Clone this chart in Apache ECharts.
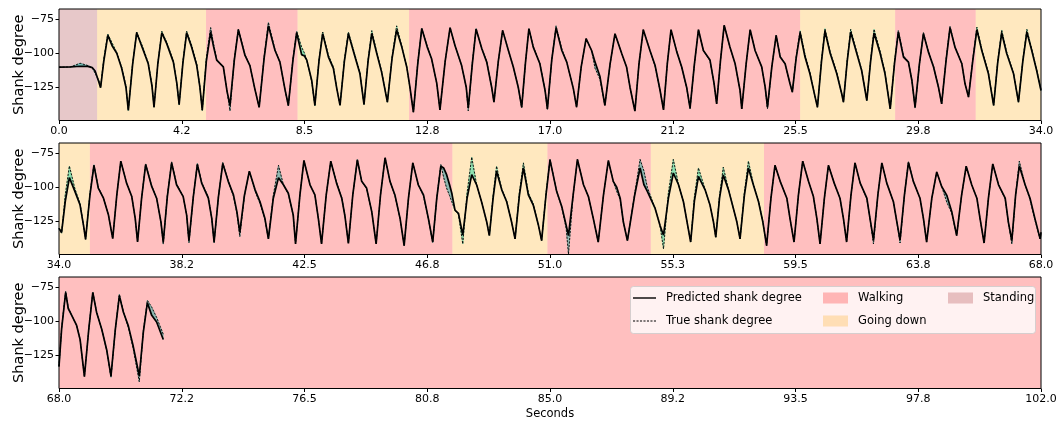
<!DOCTYPE html>
<html>
<head>
<meta charset="utf-8">
<script src="https://cdn.jsdelivr.net/npm/echarts@6/dist/echarts.min.js"></script>
<style>
  html, body { margin: 0; background: #fff; }
  #chart { width: 1062px; height: 425px; }
</style>
</head>
<body>
<div id="chart"></div>
<script>
// seconds / predicted / true shank degree, one set per row of the figure
const seconds1 = [
  0.00, 0.40, 0.73, 1.00, 1.15, 1.25, 1.38, 1.44, 1.55, 1.69, 1.85, 2.00, 2.17, 2.32, 2.40,
  2.55, 2.69, 2.92, 3.09, 3.22, 3.29,
  3.42, 3.56, 3.73, 3.96, 4.08, 4.16,
  4.29, 4.42, 4.59, 4.77, 4.88, 4.96,
  5.10, 5.25, 5.35, 5.46, 5.69, 5.82, 5.92,
  6.07, 6.21, 6.44, 6.61, 6.78, 6.93,
  7.10, 7.25, 7.48, 7.65, 7.82, 7.94,
  8.10, 8.23, 8.40, 8.50, 8.58, 8.75, 8.86,
  9.00, 9.13, 9.33, 9.50, 9.62, 9.73,
  9.88, 10.02, 10.25, 10.42, 10.56,
  10.70, 10.83, 11.00, 11.17, 11.37,
  11.53, 11.69, 11.87, 12.04, 12.15, 12.27,
  12.42, 12.56, 12.75, 12.90, 13.08, 13.19,
  13.37, 13.54, 13.71, 13.94, 14.10, 14.17,
  14.31, 14.44, 14.64, 14.81, 14.98, 15.06,
  15.21, 15.36, 15.56, 15.73, 15.90, 16.02,
  16.15, 16.27, 16.42, 16.65, 16.83, 16.91,
  17.06, 17.21, 17.41, 17.58, 17.81, 17.92,
  18.08, 18.25, 18.44, 18.56, 18.73, 18.90,
  19.08, 19.25, 19.48, 19.65, 19.77, 19.94,
  20.08, 20.23, 20.46, 20.64, 20.81, 20.93,
  21.06, 21.19, 21.39, 21.56, 21.73, 21.85,
  22.00, 22.14, 22.31, 22.54, 22.68, 22.77,
  22.90, 23.03, 23.23, 23.41, 23.58, 23.64,
  23.79, 23.93, 24.10, 24.33, 24.45, 24.53,
  24.68, 24.83, 24.97, 25.14, 25.31, 25.39,
  25.52, 25.66, 25.83, 26.00, 26.18, 26.26,
  26.40, 26.52, 26.70, 26.93, 27.10, 27.16,
  27.29, 27.41, 27.62, 27.79, 27.97,
  28.10, 28.22, 28.43, 28.60, 28.78,
  28.93, 29.06, 29.24, 29.41, 29.53, 29.64,
  29.79, 29.93, 30.10, 30.28, 30.45, 30.56,
  30.71, 30.85, 31.02, 31.26, 31.37, 31.49,
  31.64, 31.78, 31.95, 32.18, 32.36,
  32.50, 32.64, 32.81, 33.05, 33.22,
  33.37, 33.51, 33.68, 33.85, 34.00
]
const predicted1 = [
  -110.2, -110.0, -109.5, -109.6, -110.5, -113, -121, -125.2, -106, -87, -95, -100, -111, -125, -141.8,
  -108, -85, -98, -107.7, -124, -139.4,
  -108, -85.2, -93, -106.5, -122, -137.4,
  -107, -85, -95.5, -109, -125, -141.3,
  -106, -84.5, -95, -105, -110, -128, -138,
  -105, -82.8, -101.6, -109, -126, -139.4,
  -104, -80, -98, -106.5, -126, -138,
  -105, -85, -101, -102, -105, -119.9, -138,
  -106, -85.7, -102.8, -111, -126, -138,
  -106, -85.7, -102.8, -115, -137.4,
  -106, -85.7, -100, -113.8, -135.7,
  -104, -83, -95.5, -110, -124.8, -143,
  -108, -82, -95.5, -104, -122, -141.3,
  -106, -81.3, -94.3, -109, -124.8, -140,
  -108, -82.3, -96.7, -106.5, -124.8, -135.7,
  -106, -83.3, -98, -110, -124.8, -139.4,
  -107, -82, -95.5, -107.7, -127.2, -140.6,
  -105, -81.5, -98, -106.5, -126, -139.4,
  -110, -89.4, -98, -106.5, -117, -138,
  -108, -85.7, -100, -110, -124.8, -142.3,
  -108, -82.8, -98, -109, -127, -141.3,
  -108, -82.8, -99, -110, -124.8, -140,
  -108, -82.8, -98, -105, -122, -137,
  -106, -79.6, -95.5, -107.7, -127.2, -140.6,
  -108, -82.8, -98, -110, -124.8, -139.4,
  -110, -87, -102.8, -107.7, -122.3, -128.4,
  -104, -85.2, -102.8, -115, -132, -139.4,
  -106, -83.8, -100, -115, -129.6, -135.7,
  -106, -84.5, -100, -112.6, -134.5,
  -106, -85.2, -100, -115, -140.6,
  -107, -84.5, -102.8, -106.5, -119.9, -139.4,
  -108, -85.7, -99, -110, -124.8, -137,
  -106, -81.3, -95.5, -107.7, -122.3, -132,
  -105, -82.8, -98, -115, -138,
  -107, -85.2, -100, -115, -135.7,
  -106, -84.5, -98, -112.6, -127.2
]
const actual1 = [
  -110.2, -110.0, -107.3, -109.0, -110.5, -114.5, -120, -124.5, -104, -86, -93, -99.5, -110, -124, -141.5,
  -107, -84.5, -96.5, -107, -123, -139.4,
  -108, -84, -92, -105.5, -122, -137.8,
  -106, -84, -94, -108, -125, -141.8,
  -104, -81.3, -93, -104.5, -110, -128, -142,
  -104, -82.5, -101, -109, -126, -139.4,
  -103, -77.5, -97.5, -106.5, -126, -138.5,
  -104, -84, -95.5, -100, -105.5, -120.5, -138.5,
  -105, -84.5, -101.5, -110, -126, -138,
  -105, -84.5, -101.5, -114, -137.4,
  -105, -83.5, -99, -113, -135.7,
  -103, -80, -95, -110, -124.8, -143,
  -107, -82, -95, -104, -122, -141.3,
  -106, -81.3, -94, -109, -124.8, -142,
  -107, -82, -96.5, -106, -124.8, -135.7,
  -106, -83.3, -98, -110, -124.8, -139.8,
  -107, -82, -95, -107.5, -127.2, -141,
  -105, -80, -97, -106.5, -126, -139.4,
  -110, -89.4, -98, -111, -119, -138,
  -108, -85.7, -100, -110, -124.8, -142.3,
  -108, -82.8, -98, -109.5, -127, -141.3,
  -108, -82.8, -99, -110.5, -124.8, -140.6,
  -108, -82.8, -98, -105.5, -122, -137,
  -106, -79.6, -95.5, -107.7, -127.2, -140.6,
  -108, -82.8, -98, -110, -124.8, -140.5,
  -110, -87, -102, -107.7, -122.3, -128.4,
  -103, -83.5, -101, -114, -132, -139.4,
  -105, -82, -99, -114, -129.6, -135.7,
  -105, -82.5, -99, -112, -134.5,
  -105, -82.5, -98.5, -114, -140.6,
  -106, -83.5, -102, -106, -119.9, -140,
  -108, -85, -98.5, -109.5, -124.8, -137,
  -105, -80.5, -95, -107.7, -122.3, -132,
  -104, -81, -97, -114, -138,
  -106, -83, -99, -114.5, -135.7,
  -105, -82.5, -97, -112, -127
]

const seconds2 = [
  34.00, 34.09, 34.22, 34.36, 34.55, 34.73, 34.85, 34.92,
  35.07, 35.21, 35.36, 35.54, 35.71, 35.86,
  36.00, 36.14, 36.34, 36.52, 36.64, 36.72,
  36.86, 37.00, 37.21, 37.38, 37.53, 37.61,
  37.75, 37.90, 38.07, 38.30, 38.42, 38.50,
  38.65, 38.79, 38.94, 39.17, 39.29, 39.37,
  39.52, 39.67, 39.86, 40.04, 40.16, 40.26,
  40.42, 40.59, 40.79, 40.96, 41.13, 41.25,
  41.42, 41.60, 41.77, 41.94, 42.11, 42.19,
  42.34, 42.48, 42.69, 42.86, 42.98, 43.09,
  43.25, 43.41, 43.61, 43.79, 43.90, 44.02,
  44.17, 44.33, 44.48, 44.65, 44.83, 44.98,
  45.13, 45.29, 45.46, 45.63, 45.81, 45.95,
  46.10, 46.25, 46.44, 46.62, 46.79, 46.94,
  47.08, 47.22, 47.32, 47.42, 47.52, 47.60, 47.71, 47.83, 47.98,
  48.13, 48.29, 48.46, 48.63, 48.81, 48.90,
  49.03, 49.15, 49.33, 49.50, 49.67, 49.79,
  49.94, 50.08, 50.25, 50.42, 50.60, 50.71,
  50.86, 51.00, 51.23, 51.41, 51.56, 51.64,
  51.80, 51.95, 52.16, 52.33, 52.50, 52.67,
  52.85, 53.02, 53.19, 53.31, 53.43, 53.54, 53.68,
  53.93, 54.12, 54.25, 54.37, 54.64, 54.81, 54.93,
  55.10, 55.27, 55.45, 55.62, 55.87,
  56.00, 56.14, 56.37, 56.54, 56.66, 56.74,
  56.87, 57.00, 57.18, 57.35, 57.47, 57.58,
  57.73, 57.87, 58.04, 58.22, 58.37, 58.50,
  58.65, 58.79, 58.97, 59.20, 59.31, 59.45,
  59.60, 59.75, 59.95, 60.12, 60.24, 60.35,
  60.50, 60.64, 60.84, 61.04, 61.16, 61.27,
  61.42, 61.56, 61.74, 61.97, 62.08, 62.20,
  62.35, 62.49, 62.66, 62.89, 63.01, 63.12,
  63.27, 63.41, 63.58, 63.81, 63.93, 64.04,
  64.22, 64.39, 64.56, 64.74, 64.91, 65.08,
  65.25, 65.41, 65.60, 65.78, 65.89, 66.03,
  66.18, 66.33, 66.53, 66.76, 66.87, 66.99,
  67.12, 67.25, 67.45, 67.62, 67.79, 67.97, 68.00
]
const predicted2 = [
  -130, -133, -110, -93, -103, -113, -128, -138,
  -106, -84, -100.6, -108, -120, -137.5,
  -106, -81, -97, -106.8, -122.9, -140,
  -108, -83.4, -99.4, -108, -125.4, -140,
  -107, -82.2, -98.2, -106.8, -120.4, -139,
  -107, -83.4, -97, -108, -122.9, -140,
  -107, -82.7, -95.7, -105.6, -118, -133,
  -106, -88.3, -101.9, -110.6, -122.9, -137.7,
  -108, -93, -98.2, -104.4, -120.4, -141.4,
  -106, -80.5, -98.2, -105.6, -122.9, -141.4,
  -106, -81, -97, -108, -121, -141,
  -106, -80, -95.7, -100.6, -118, -141.4,
  -106, -78.5, -95.7, -105.6, -122.9, -142.6,
  -108, -82.2, -98.2, -105.6, -122.9, -140,
  -108, -84.6, -86, -90.8, -98, -104.4, -116.7, -119, -135,
  -108, -90.8, -98.2, -110.6, -125.4, -135.3,
  -108, -88.3, -101.9, -110.6, -125.4, -137.7,
  -106, -85.9, -105.6, -113, -127.8, -139,
  -106, -80, -103, -114.3, -127.8, -135.3,
  -106, -79.7, -98.2, -106.8, -122.9, -140,
  -106, -80.5, -95.7, -100, -108, -125.4, -139,
  -106, -85.9, -98, -103, -115.5, -128, -135,
  -108, -89.6, -98.2, -110.6, -140,
  -110, -92, -101.9, -113, -125.4, -136.5,
  -108, -91, -101.9, -115.5, -125.4, -137.7,
  -106, -85.9, -98.2, -110.6, -125.4, -142.6,
  -108, -84, -95.7, -108, -122.9, -140,
  -106, -81, -95.7, -106.8, -122.9, -141.4,
  -108, -84, -97, -108, -122.9, -140,
  -106, -82.2, -97, -108, -122.9, -138.5,
  -106, -82.2, -97, -110.6, -125.4, -138.5,
  -106, -82, -95.7, -108, -122.9, -140,
  -108, -88.8, -99.4, -106, -117.8, -135.3,
  -106, -84.6, -98.2, -108, -122.9, -140.7,
  -108, -83, -98.2, -108, -125.4, -139,
  -106, -84.5, -98.2, -108, -122.9, -137.7, -133
]
const actual2 = [
  -130, -133.5, -105, -84.5, -101, -112, -128, -138,
  -105, -83.5, -100, -108, -120, -137.5,
  -106, -81, -97, -106.8, -122.9, -140,
  -108, -83, -99, -108, -125.4, -141.5,
  -106, -81.5, -97.5, -106.8, -120.4, -140.5,
  -107, -82.5, -96.5, -107, -122.9, -140.5,
  -107, -82, -95.5, -106.5, -119, -136,
  -106, -88.3, -103, -112, -123.5, -137.7,
  -106, -84, -98.2, -105, -120.4, -141.4,
  -106, -80.5, -98.2, -105.6, -122.9, -141.4,
  -106, -81, -96.5, -107.5, -121, -141,
  -106, -79.7, -95.7, -101, -118, -141.4,
  -106, -78.5, -95.7, -106, -122.9, -142.6,
  -108, -82.2, -98.2, -106.5, -123, -140.5,
  -108, -83.5, -93, -100.6, -106, -110.6, -116.7, -120, -141.4,
  -104, -78, -98.2, -110.6, -125.4, -135.3,
  -106, -84.6, -101.5, -110, -125.4, -137.7,
  -104, -82.2, -104, -112, -127.8, -139,
  -105, -79.7, -103, -115, -130, -148.8,
  -106, -79.7, -98.2, -106.8, -122.9, -140,
  -106, -80.5, -95.7, -103, -109, -125.4, -139,
  -105, -79.7, -88, -100, -115.5, -128, -145,
  -104, -79.7, -98, -110.6, -140,
  -107, -85.9, -101.5, -113, -125.4, -136.5,
  -106, -85.4, -101.5, -115.5, -125.4, -137.7,
  -104, -81, -97.5, -110, -125.4, -142.6,
  -108, -84, -95.7, -108, -122.9, -140,
  -106, -81, -95.7, -106.8, -122.9, -141.4,
  -108, -84, -97, -108, -122.9, -140,
  -106, -82.2, -97, -108.5, -122.9, -141.4,
  -106, -82.2, -97, -110.6, -125.4, -140.7,
  -106, -81.4, -95.7, -108, -122.9, -140,
  -108, -88.8, -99.4, -111, -119, -135.3,
  -106, -84.6, -98.2, -108, -122.9, -140.7,
  -108, -83, -98.2, -108.5, -125.4, -141.4,
  -106, -81, -98.2, -109, -124, -137.7, -133
]

const seconds3 = [
  68.00, 68.09, 68.23, 68.32, 68.44, 68.61, 68.73, 68.88,
  69.03, 69.17, 69.30, 69.48, 69.65, 69.80,
  69.95, 70.09, 70.23, 70.40, 70.57, 70.78,
  70.92, 71.06, 71.21, 71.38, 71.61
]
const predicted3 = [
  -133, -105.8, -79, -90.7, -95.7, -103.1, -113.3, -140.4,
  -106, -79, -93.4, -105.8, -120.8, -140,
  -106, -81.5, -93.4, -103.4, -118.3, -140,
  -108, -86.5, -95.7, -100.6, -113.3
]
const actual3 = [
  -133, -105, -78.2, -90, -95.7, -103.1, -113.3, -140.4,
  -106, -78.7, -93, -105.8, -121, -141,
  -106, -80.2, -93, -104.5, -120, -144.2,
  -107, -84.7, -89.7, -97.2, -109.5
]

// activity shading
const activityStart = [0, 1.32, 5.09, 8.26, 12.12, 25.66, 28.95, 31.74, 35.07, 47.62, 50.91, 54.49, 58.41]
const activityEnd = [1.32, 5.09, 8.26, 12.12, 25.66, 28.95, 31.74, 35.07, 47.62, 50.91, 54.49, 58.41, 102]
const activityLabel = ['Standing', 'Going down', 'Walking', 'Going down', 'Walking', 'Going down', 'Walking',
  'Going down', 'Walking', 'Going down', 'Walking', 'Going down', 'Walking']

const activityNames = ['Walking', 'Going down', 'Standing']
const activityColors = ['rgba(255,0,0,0.25)', 'rgba(255,165,0,0.25)', 'rgba(160,35,40,0.25)']

const panelStart = [0, 34, 68]
const panelEnd = [34, 68, 102]
const tickLabels = [
  ['0.0', '4.2', '8.5', '12.8', '17.0', '21.2', '25.5', '29.8', '34.0'],
  ['34.0', '38.2', '42.5', '46.8', '51.0', '55.3', '59.5', '63.8', '68.0'],
  ['68.0', '72.2', '76.5', '80.8', '85.0', '89.2', '93.5', '97.8', '102.0']
]
const yTicks = [-125, -100, -75]

const FONT = 'DejaVu Sans'
const FILL = 'rgb(100,245,235)'
const Y_MIN = -149.1
const Y_MAX = -67.7
const STEP = 4.25
const DASH_ICON = 'path://M0,0h2v1h-2z M3.3,0h2v1h-2z M6.6,0h2v1h-2z M9.9,0h2v1h-2z M13.2,0h2v1h-2z M16.5,0h2v1h-2z M19.8,0h2v1h-2z'

const panels = [
  { seconds: seconds1, predicted: predicted1, actual: actual1 },
  { seconds: seconds2, predicted: predicted2, actual: actual2 },
  { seconds: seconds3, predicted: predicted3, actual: actual3 }
]
const gridTops = [9, 143, 277]

const grids = []
const xAxes = []
const yAxes = []
const series = []

panels.forEach((p, i) => {
  const x0 = panelStart[i]
  const x1 = panelEnd[i]
  const xTicks = tickLabels[i].map((_, k) => x0 + k * STEP)

  grids.push({
    left: 59, right: 21, top: gridTops[i], height: 111.5,
    outerBoundsMode: 'none', containLabel: false,
    show: true, z: 5, backgroundColor: 'transparent', borderColor: '#000', borderWidth: 1
  })

  xAxes.push({
    type: 'value', gridIndex: i, min: x0, max: x1, interval: STEP,
    splitLine: { show: false },
    axisLine: { show: false },
    axisTick: { show: true, length: 3.5, lineStyle: { color: '#000', width: 1 }, customValues: xTicks },
    axisLabel: {
      customValues: xTicks, color: '#000', fontFamily: FONT, fontSize: 11, margin: 5,
      formatter: v => tickLabels[i][Math.round((v - x0) / STEP)]
    },
    name: i === 2 ? 'Seconds' : '',
    nameLocation: 'middle', nameGap: 20, nameMoveOverlap: false,
    nameTextStyle: { color: '#000', fontFamily: FONT, fontSize: 11.5 }
  })

  yAxes.push({
    type: 'value', gridIndex: i, min: Y_MIN, max: Y_MAX,
    splitLine: { show: false },
    axisLine: { show: false },
    axisTick: { show: true, length: 3.5, lineStyle: { color: '#000', width: 1 }, customValues: yTicks },
    axisLabel: {
      customValues: yTicks, color: '#000', fontFamily: FONT, fontSize: 11, margin: 5,
      formatter: v => '\u2212' + Math.abs(v)
    },
    name: 'Shank degree', nameLocation: 'middle', nameRotate: 90, nameGap: 32, nameMoveOverlap: false,
    nameTextStyle: { color: '#000', fontFamily: FONT, fontSize: 14.5 }
  })

  // band between the two curves, one quad per sample step
  const quads = []
  for (let k = 0; k < p.seconds.length - 1; k++) {
    const d0 = p.predicted[k] - p.actual[k]
    const d1 = p.predicted[k + 1] - p.actual[k + 1]
    if (d0 === 0 && d1 === 0) continue
    quads.push([p.seconds[k], p.seconds[k + 1], p.predicted[k], p.predicted[k + 1], p.actual[k], p.actual[k + 1]])
  }
  series.push({
    type: 'custom', xAxisIndex: i, yAxisIndex: i, silent: true, z: 1,
    encode: { x: [0, 1], y: [2, 3, 4, 5] },
    data: quads,
    renderItem: (params, api) => {
      const pts = [
        api.coord([api.value(0), api.value(2)]),
        api.coord([api.value(1), api.value(3)]),
        api.coord([api.value(1), api.value(5)]),
        api.coord([api.value(0), api.value(4)])
      ]
      return {
        type: 'polygon',
        shape: { points: pts },
        style: { fill: FILL, stroke: FILL, lineWidth: 0.6 }
      }
    }
  })

  // activity shading above the band, under the curves
  const spans = []
  activityStart.forEach((s, k) => {
    const a = Math.max(s, x0)
    const b = Math.min(activityEnd[k], x1)
    if (b > a) spans.push([a, b, activityNames.indexOf(activityLabel[k])])
  })
  series.push({
    type: 'custom', xAxisIndex: i, yAxisIndex: i, silent: true, z: 3,
    encode: { x: [0, 1] },
    data: spans,
    renderItem: (params, api) => {
      const tl = api.coord([api.value(0), Y_MAX])
      const br = api.coord([api.value(1), Y_MIN])
      return {
        type: 'rect',
        shape: { x: tl[0], y: tl[1], width: br[0] - tl[0], height: br[1] - tl[1] },
        style: { fill: activityColors[api.value(2)] }
      }
    }
  })

  series.push({
    name: 'Predicted shank degree', type: 'line', xAxisIndex: i, yAxisIndex: i,
    data: p.seconds.map((t, k) => [t, p.predicted[k]]),
    symbol: 'none', z: 4, lineStyle: { color: '#000', width: 1.7 }, itemStyle: { color: '#000' }
  })
  series.push({
    name: 'True shank degree', type: 'line', xAxisIndex: i, yAxisIndex: i,
    data: p.seconds.map((t, k) => [t, p.actual[k]]),
    symbol: 'none', z: 4, lineStyle: { color: '#000', width: 0.9, type: [2.2, 1.3] }, itemStyle: { color: '#000' }
  })
})

// legend-only entries for the shading
activityNames.forEach((n, k) => {
  series.push({
    name: n, type: 'line', xAxisIndex: 0, yAxisIndex: 0, data: [],
    symbol: 'none', itemStyle: { color: activityColors[k] }, lineStyle: { color: activityColors[k] }
  })
})

const legendText = { fontFamily: FONT, fontSize: 11.5, color: '#000', padding: [0, 0, 0, 5] }
const legendBase = {
  orient: 'vertical', top: 292, padding: 0, itemGap: 11, selectedMode: false, z: 20,
  textStyle: legendText
}

const chart = echarts.init(document.getElementById('chart'), null, { renderer: 'canvas' })
chart.setOption({
  animation: false,
  backgroundColor: '#fff',
  grid: grids,
  xAxis: xAxes,
  yAxis: yAxes,
  series: series,
  legend: [
    Object.assign({}, legendBase, {
      left: 633, itemWidth: 23, itemHeight: 1.4,
      data: [
        { name: 'Predicted shank degree', icon: 'rect', itemStyle: { color: '#000' } },
        { name: 'True shank degree', icon: DASH_ICON, itemStyle: { color: '#000' } }
      ]
    }),
    Object.assign({}, legendBase, {
      left: 823, itemWidth: 25, itemHeight: 11,
      data: [
        { name: 'Walking', icon: 'rect', itemStyle: { color: activityColors[0] } },
        { name: 'Going down', icon: 'rect', itemStyle: { color: activityColors[1] } }
      ]
    }),
    Object.assign({}, legendBase, {
      left: 948, itemWidth: 25, itemHeight: 11,
      data: [{ name: 'Standing', icon: 'rect', itemStyle: { color: activityColors[2] } }]
    })
  ],
  graphic: [{
    type: 'rect', left: 630, top: 286, z: 15, silent: true,
    shape: { width: 405, height: 47, r: 3 },
    style: { fill: 'rgba(255,255,255,0.8)', stroke: 'rgba(204,204,204,0.8)', lineWidth: 1 }
  }]
})
</script>
</body>
</html>
